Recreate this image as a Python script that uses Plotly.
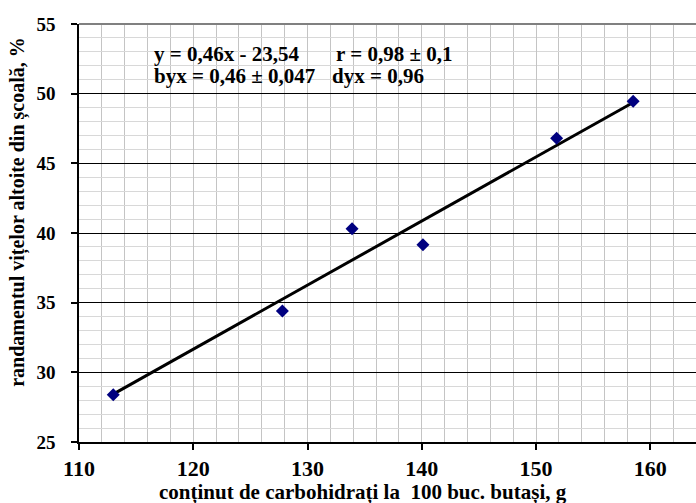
import plotly.graph_objects as go

carbs = [113.0, 127.8, 133.9, 140.1, 151.8, 158.5]
rand = [28.4, 34.4, 40.3, 39.15, 46.8, 49.45]
slope = 0.46
intercept = -23.54
x_ticks = [110, 120, 130, 140, 150, 160]
y_ticks = [25, 30, 35, 40, 45, 50, 55]

x_line = [min(carbs), max(carbs)]
y_line = [slope * v + intercept for v in x_line]

FONT = "Times New Roman, Liberation Serif, serif"
L, T, W, H = 79, 24, 617, 418.3


def px(x):
    return (x - L) / W


def py(y):
    return (T + H - y) / H


fig = go.Figure()
fig.add_trace(go.Scatter(x=x_line, y=y_line, mode="lines",
                         line=dict(color="black", width=3), showlegend=False,
                         hoverinfo="skip"))
fig.add_trace(go.Scatter(x=carbs, y=rand, mode="markers",
                         marker=dict(symbol="diamond", size=10, color="#000080"),
                         showlegend=False))

fig.update_xaxes(range=[110, 164.0], tickvals=x_ticks,
                 ticktext=[f"<b>{v}</b>" for v in x_ticks], showgrid=True,
                 gridcolor="#c4c4c4", gridwidth=1,
                 minor=dict(dtick=2, showgrid=True, gridcolor="#c4c4c4", gridwidth=1),
                 showline=True, linecolor="black", linewidth=1.5,
                 ticks="outside", ticklen=6, tickcolor="black", tickwidth=1.5,
                 zeroline=False,
                 tickfont=dict(family=FONT, size=22, color="black", weight="bold"))
fig.update_yaxes(range=[25, 55], tickvals=y_ticks,
                 ticktext=[f"<b>{v}</b>" for v in y_ticks], showgrid=True,
                 gridcolor="black", gridwidth=1,
                 minor=dict(dtick=1, showgrid=True, gridcolor="#d8d8d8", gridwidth=1),
                 showline=True, linecolor="black", linewidth=1.5,
                 ticks="outside", ticklen=6, tickcolor="black", tickwidth=1.5,
                 ticklabelstandoff=12,
                 zeroline=False,
                 tickfont=dict(family=FONT, size=19, color="black", weight="bold"))

# axis titles
fig.add_annotation(xref="paper", yref="paper", x=px(363), y=py(493),
                   xanchor="center", yanchor="middle", showarrow=False,
                   text="<b>conținut de carbohidrați la  100 buc. butași, g</b>",
                   font=dict(family=FONT, size=21, color="black"))
fig.add_annotation(xref="paper", yref="paper", x=px(18), y=py(212),
                   xanchor="center", yanchor="middle", showarrow=False, textangle=-90,
                   text="<b>randamentul vițelor altoite din școală, %</b>",
                   font=dict(family=FONT, size=20, color="black"))

# white box behind the equation text
fig.add_shape(type="rect", xref="paper", yref="paper",
              x0=px(101), x1=px(453), y0=py(88), y1=py(38),
              fillcolor="white", line=dict(width=0), layer="between")
# top border
fig.add_shape(type="line", xref="paper", yref="paper", x0=0, x1=1, y0=1, y1=1,
              line=dict(color="#808080", width=2))

labels = [
    ("y = 0,46x - 23,54", 152, 54),
    ("r = 0,98 ± 0,1", 334, 54),
    ("byx = 0,46 ± 0,047", 152, 76),
    ("dyx = 0,96", 330, 76),
]
for txt, x0, y0 in labels:
    fig.add_annotation(xref="paper", yref="paper", x=px(x0), y=py(y0),
                       xanchor="left", yanchor="middle", showarrow=False,
                       text=f"<b>{txt}</b>",
                       font=dict(family=FONT, size=21, color="black"))

fig.update_layout(width=696, height=503, margin=dict(l=L, r=0, t=T, b=61),
                  plot_bgcolor="white", paper_bgcolor="white")
fig.write_html("out.html")
